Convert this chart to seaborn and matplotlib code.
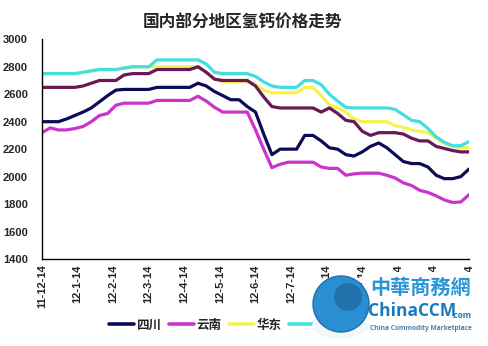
import numpy as np
import pandas as pd
import matplotlib
matplotlib.use("Agg")
import matplotlib.pyplot as plt
import seaborn as sns
from matplotlib.patches import Circle, Ellipse, FancyBboxPatch
from matplotlib.transforms import IdentityTransform

# ---------------- data ----------------
month_labels = ["11-12-14", "12-1-14", "12-2-14", "12-3-14", "12-4-14", "12-5-14",
                "12-6-14", "12-7-14", "12-8-14", "12-9-14", "12-10-14", "12-11-14",
                "12-12-14"]
weeks = list(range(53))

sichuan = [2400, 2400, 2400, 2420, 2445, 2470, 2500, 2545, 2590, 2630, 2635, 2635, 2635, 2635,
           2650, 2650, 2650, 2650, 2650, 2680, 2660, 2620, 2590, 2560, 2560, 2510, 2470, 2310,
           2160, 2200, 2200, 2200, 2300, 2300, 2260, 2210, 2200, 2160, 2150, 2180, 2220, 2245,
           2210, 2160, 2110, 2095, 2095, 2070, 2010, 1985, 1985, 2000, 2055]
yunnan = [2320, 2355, 2340, 2340, 2350, 2365, 2400, 2445, 2460, 2520, 2535, 2535, 2535, 2535,
          2555, 2555, 2555, 2555, 2555, 2585, 2550, 2505, 2470, 2470, 2470, 2470, 2340, 2200,
          2065, 2090, 2105, 2105, 2105, 2105, 2070, 2060, 2060, 2010, 2020, 2025, 2025, 2025,
          2010, 1990, 1955, 1935, 1900, 1885, 1860, 1830, 1812, 1815, 1868]
huadong = [2750, 2750, 2750, 2750, 2750, 2760, 2770, 2780, 2780, 2780, 2790, 2800, 2800, 2800,
           2800, 2800, 2800, 2800, 2800, 2800, 2760, 2710, 2690, 2690, 2690, 2690, 2670, 2630,
           2610, 2610, 2610, 2610, 2650, 2650, 2590, 2520, 2500, 2470, 2420, 2400, 2400, 2400,
           2400, 2370, 2360, 2340, 2330, 2320, 2280, 2240, 2220, 2210, 2210]
huabei = [2750, 2750, 2750, 2750, 2750, 2760, 2770, 2780, 2780, 2780, 2790, 2800, 2800, 2800,
          2850, 2850, 2850, 2850, 2850, 2850, 2820, 2760, 2750, 2750, 2750, 2750, 2730, 2690,
          2660, 2650, 2650, 2650, 2700, 2700, 2670, 2600, 2550, 2505, 2500, 2500, 2500, 2500,
          2500, 2490, 2450, 2410, 2400, 2350, 2290, 2250, 2225, 2225, 2255]
huanan = [2650, 2650, 2650, 2650, 2650, 2660, 2680, 2700, 2700, 2700, 2740, 2750, 2750, 2750,
          2780, 2780, 2780, 2780, 2780, 2800, 2760, 2710, 2700, 2700, 2700, 2700, 2660, 2580,
          2510, 2500, 2500, 2500, 2500, 2500, 2470, 2500, 2460, 2410, 2400, 2330, 2300, 2320,
          2320, 2320, 2310, 2280, 2260, 2260, 2220, 2205, 2190, 2180, 2180]

series_names = ["四川", "云南", "华东", "华北", "华南"]
series_values = [sichuan, yunnan, huadong, huabei, huanan]
colors = ["#0b0b58", "#cc33cc", "#f4f450", "#44dede", "#661a55"]

frames = []
for name, vals in zip(series_names, series_values):
    frames.append(pd.DataFrame({"week": weeks, "price": vals, "region": name}))
df = pd.concat(frames, ignore_index=True)

# ---------------- style ----------------
sns.set_style("white")
plt.rcParams["font.family"] = ["Liberation Sans", "Noto Sans CJK SC", "DejaVu Sans"]
plt.rcParams["font.weight"] = "bold"

fig = plt.figure(figsize=(4.88, 3.46), dpi=100)
ax = fig.add_axes([42 / 488, 1 - 259 / 346, (469 - 42) / 488, (259 - 39.3) / 346])

palette = dict(zip(series_names, colors))
sns.lineplot(data=df, x="week", y="price", hue="region", hue_order=series_names,
             palette=palette, linewidth=2.3, ax=ax, legend=False, sort=False)

ax.set_xlim(0, 52)
ax.set_ylim(1400, 3000)
ax.set_yticks(np.arange(1400, 3001, 200))
ax.set_yticklabels([str(v) for v in range(1400, 3001, 200)], fontsize=8, fontweight="bold")
ax.set_xticks([k * 52 / 12 for k in range(13)])
ax.set_xticklabels(month_labels, rotation=90, fontsize=8, fontweight="bold")
ax.set_xlabel("")
ax.set_ylabel("")
ax.tick_params(axis="x", direction="in", length=4, width=1, color="black", pad=4)
ax.tick_params(axis="y", direction="in", length=3, width=1, color="black", pad=10)
for s in ["top", "right"]:
    ax.spines[s].set_visible(False)
for s in ["left", "bottom"]:
    ax.spines[s].set_color("black")
    ax.spines[s].set_linewidth(1.0)

fig.text(242 / 488, 1 - 23 / 346, "国内部分地区氢钙价格走势", ha="center", va="center",
         fontsize=12, fontweight="bold", family=["Noto Sans CJK SC"])

handles = [plt.Line2D([], [], color=c, lw=2.6) for c in colors]
fig.legend(handles, series_names, loc="center", bbox_to_anchor=(255 / 488, 1 - 325 / 346),
           ncol=5, frameon=False, handlelength=2.0, handletextpad=0.2, columnspacing=0.6,
           prop={"family": ["Noto Sans CJK SC"], "weight": "bold", "size": 9})

# ---------------- watermark logo ----------------
fig.add_artist(FancyBboxPatch((362, 346 - 338), 118, 66, boxstyle="round,pad=0,rounding_size=4",
                              transform=IdentityTransform(), facecolor="white",
                              edgecolor="none", zorder=20))
fig.add_artist(Ellipse((340, 346 - 326), 56, 26, transform=IdentityTransform(),
                       facecolor="#f4f6f8", edgecolor="none", zorder=20.5))
fig.add_artist(Circle((341, 346 - 304), 28, transform=IdentityTransform(),
                      facecolor="#2a8fd2", edgecolor="#1c6fae", lw=1, zorder=21))
fig.add_artist(Circle((348, 346 - 297), 14, transform=IdentityTransform(),
                      facecolor="#1e5d95", edgecolor="none", alpha=0.6, zorder=22))
fig.text(421 / 488, 1 - 287 / 346, "中華商務網", ha="center", va="center", fontsize=14.5,
         color="#2a95d6", family=["Noto Sans CJK TC"], zorder=23)
fig.text(368 / 488, 1 - 311 / 346, "ChinaCCM", ha="left", va="center", fontsize=12.5,
         color="#1c78bd", fontweight="bold", family=["Open Sans"], zorder=23)
fig.text(451 / 488, 1 - 315 / 346, ".com", ha="left", va="center", fontsize=6,
         color="#1c78bd", fontweight="bold", family=["Open Sans"], zorder=23)
fig.text(421 / 488, 1 - 328 / 346, "China Commodity Marketplace", ha="center", va="center",
         fontsize=4.8, color="#4a7fa8", fontweight="bold", family=["Open Sans"], zorder=23)

fig.savefig("out.png", dpi=100, facecolor="white")
